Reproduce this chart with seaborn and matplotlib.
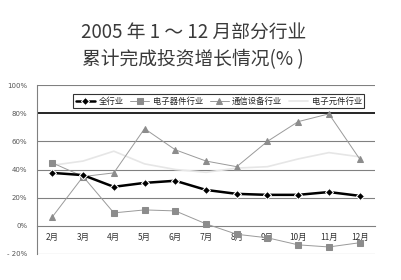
import matplotlib
matplotlib.use("Agg")
import matplotlib.pyplot as plt
import seaborn as sns
import pandas as pd
import numpy as np

months = ["2月", "3月", "4月", "5月", "6月", "7月", "8月", "9月", "10月", "11月", "12月"]
all_industry = [37.6, 36.0, 27.7, 30.5, 32.0, 25.5, 22.7, 22.0, 22.0, 24.0, 21.3]
devices = [44.7, 35.0, 9.2, 11.3, 10.6, 1.4, -6.0, -8.5, -13.5, -15.0, -12.0]
telecom = [6.4, 35.0, 37.6, 69.0, 54.0, 46.0, 42.0, 60.0, 74.0, 79.5, 47.5]
components = [43.0, 46.0, 53.0, 44.0, 40.0, 38.0, 41.0, 42.0, 47.5, 52.0, 49.0]
series_names = ["全行业", "电子器件行业", "通信设备行业", "电子元件行业"]
y_ticks = [100, 80, 60, 40, 20, 0, -20]
y_labels = ["100%", "80%", "60%", "40%", "20%", "0%", "- 20%"]
title_line1 = "2005 年 1 ～ 12 月部分行业"
title_line2 = "累计完成投资增长情况(% )"

sns.set_theme(style="white")
plt.rcParams['font.family'] = ['Noto Sans CJK SC', 'DejaVu Sans']

fig = plt.figure(figsize=(4.01, 2.80), dpi=100)
ax = fig.add_axes([37/401, 1-254/280, 338/401, 169/280])

x = np.arange(len(months))
df = pd.DataFrame({"x": x, "全行业": all_industry, "电子器件行业": devices,
                   "通信设备行业": telecom, "电子元件行业": components})

styles = {
    "全行业": dict(color="black", lw=1.8, marker="D", markersize=4.5, zorder=5),
    "电子器件行业": dict(color="#9a9a9a", lw=0.7, marker="s", markersize=4, markerfacecolor="#8c8c8c", markeredgecolor="#8c8c8c", zorder=4),
    "通信设备行业": dict(color="#9a9a9a", lw=0.7, marker="^", markersize=4.5, markerfacecolor="#8c8c8c", markeredgecolor="#8c8c8c", zorder=4),
    "电子元件行业": dict(color="#e6e6e6", lw=1.2, marker=None, zorder=3),
}
for name in series_names:
    sns.lineplot(data=df, x="x", y=name, ax=ax, label=name, **styles[name])

ax.set_xlim(-0.5, len(months) - 0.5)
ax.set_ylim(-20, 100)
ax.set_xlabel("")
ax.set_ylabel("")

for yv in y_ticks:
    if yv == 80:
        ax.axhline(yv, color="black", lw=1.2, zorder=1)
    elif yv == 0:
        continue
    else:
        ax.axhline(yv, color="#808080", lw=0.8, zorder=1)

for s in ["top", "right"]:
    ax.spines[s].set_visible(False)
ax.spines["left"].set_color("#808080")
ax.spines["left"].set_linewidth(0.8)
ax.spines["bottom"].set_position(("data", 0))
ax.spines["bottom"].set_color("#808080")
ax.spines["bottom"].set_linewidth(0.8)

ax.set_yticks(y_ticks)
ax.set_yticklabels(y_labels, fontsize=5, color="#555555", family="DejaVu Sans")
ax.tick_params(axis="y", direction="out", length=3, width=0.8, color="#808080", pad=4)

ax.set_xticks(x)
ax.set_xticklabels(months, fontsize=6, color="#333333")
ax.tick_params(axis="x", which="major", length=0, pad=5)
ax.set_xticks(np.arange(-0.5, len(months) + 0.5, 1), minor=True)
ax.tick_params(axis="x", which="minor", direction="in", length=3, width=0.8, color="#808080")

leg = ax.legend(loc="center", bbox_to_anchor=(0.538, 0.905), ncol=4, fontsize=6,
                frameon=True, fancybox=False, edgecolor="black", handlelength=2.3,
                columnspacing=0.8, handletextpad=0.4, borderpad=0.3, borderaxespad=0)
leg.get_frame().set_linewidth(0.8)
leg.set_zorder(10)

fig.text(0.482, 1-32/280, title_line1, ha="center", va="center", fontsize=13.5, color="#3a3a3a")
fig.text(0.482, 1-60/280, title_line2, ha="center", va="center", fontsize=13.5, color="#3a3a3a")

fig.savefig("out.png", dpi=100)
